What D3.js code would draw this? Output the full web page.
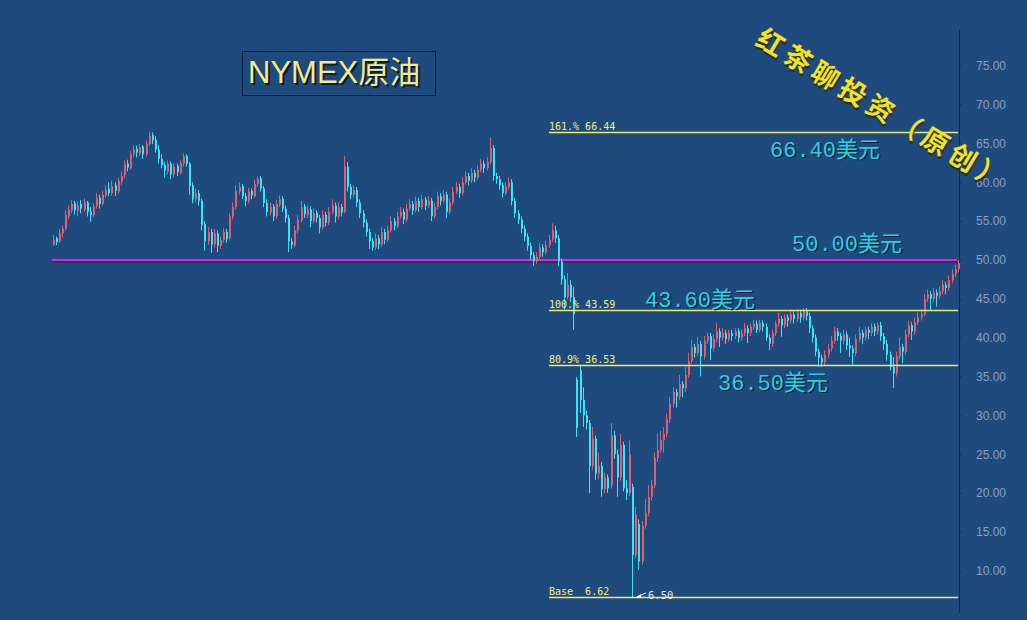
<!DOCTYPE html>
<html><head><meta charset="utf-8">
<script src="https://cdn.jsdelivr.net/npm/d3@7"></script>
<style>html,body{margin:0;padding:0;background:#1f4a7e;overflow:hidden}</style>
</head><body>
<svg id="c" width="1027" height="620"></svg>
<script>
// ---- data ----
const opens=[52.0,52.8,52.4,53.4,54.0,55.6,56.4,57.3,56.3,57.2,
56.5,57.4,56.2,55.8,56.9,58.0,57.2,58.3,59.2,58.6,
59.6,58.8,60.1,60.9,62.4,61.8,63.6,64.3,63.7,64.6,
63.6,64.9,66.1,65.5,64.2,63.0,62.2,61.4,62.4,61.0,
62.1,61.2,62.4,63.4,62.4,59.6,57.8,58.6,57.6,54.6,
52.4,53.6,52.0,53.4,51.8,52.6,53.6,52.8,55.6,56.8,
58.8,59.5,58.2,57.6,58.9,58.2,59.8,60.5,59.2,57.3,
56.1,56.9,55.6,57.1,57.9,56.6,55.4,52.4,51.8,53.8,
55.1,56.9,55.8,56.5,55.0,56.1,55.4,54.2,55.8,54.8,
56.2,57.0,55.6,56.8,56.2,62.0,59.4,58.4,59.0,57.4,
56.0,54.8,53.6,52.4,51.6,52.8,52.0,53.6,52.6,53.8,
55.0,54.4,55.6,56.2,55.2,56.6,57.2,56.4,57.6,56.8,
57.8,57.0,57.6,55.6,56.8,58.2,57.6,58.4,56.2,57.4,
58.8,59.4,58.6,60.0,60.8,60.2,61.2,60.6,61.6,62.4,
61.8,62.6,64.4,60.8,60.4,59.6,58.6,59.4,60.0,57.6,
56.0,55.2,54.0,53.0,51.8,50.6,49.8,50.4,51.6,51.0,
51.9,52.6,53.8,52.8,49.8,47.5,45.2,46.8,45.2,34.6,
35.8,32.0,30.0,29.0,23.5,27.0,22.5,23.5,20.5,22.0,
21.0,27.4,25.0,22.0,26.2,20.6,20.0,20.8,12.0,16.0,
11.2,15.8,17.4,19.5,21.0,24.5,25.5,26.8,27.6,29.5,
31.5,33.0,32.4,34.0,33.5,35.2,37.0,38.8,38.0,39.2,
37.6,39.6,40.2,38.6,39.8,40.8,40.0,40.6,39.8,40.6,
40.2,40.8,40.0,40.6,41.2,40.6,41.4,41.8,41.0,41.9,
41.4,40.0,39.2,40.6,41.8,42.4,41.6,42.6,42.2,43.0,
42.4,43.2,42.6,43.4,42.8,41.2,40.0,38.2,37.4,36.8,
37.8,38.6,39.6,40.8,40.2,39.6,40.4,39.0,38.6,38.0,
39.8,40.6,40.0,41.0,40.6,41.4,40.8,41.6,40.2,39.2,
37.8,36.2,35.4,37.6,38.8,38.2,40.4,41.6,40.8,42.0,
42.6,43.0,45.0,45.6,45.0,45.8,45.4,46.0,46.8,46.4,
47.4,48.2,48.8];
const highs=[53.2,53.0,54.0,54.4,56.4,57.0,57.7,57.6,57.5,57.7,
57.9,57.6,56.8,57.3,58.6,58.4,58.9,59.6,60.0,60.2,
60.0,60.6,61.4,62.8,62.9,64.0,64.8,64.7,64.9,64.8,
65.4,66.5,66.4,65.9,64.8,63.6,62.6,62.8,62.7,62.4,
62.4,62.9,63.7,63.6,62.6,60.0,59.2,59.0,57.9,55.0,
54.2,54.0,54.0,53.8,53.0,54.1,54.0,56.0,57.4,59.6,
60.0,59.8,58.6,59.3,59.2,60.3,60.7,60.8,59.5,57.8,
57.4,57.2,57.7,58.3,58.2,57.0,55.8,52.8,54.4,55.8,
57.6,57.2,57.0,56.9,56.6,56.4,55.8,56.4,56.2,56.8,
57.8,57.4,57.4,57.2,63.4,62.6,59.8,59.6,59.4,57.8,
56.4,55.2,54.0,52.8,53.4,53.2,54.2,54.0,54.4,55.6,
55.4,56.2,56.8,56.6,57.2,57.8,57.6,58.2,58.0,58.4,
58.1,58.2,58.0,57.4,58.8,58.6,59.0,58.8,57.9,59.4,
60.0,59.8,60.6,61.4,61.2,61.8,61.6,62.2,63.0,62.8,
63.2,65.8,64.8,61.2,60.8,60.0,60.0,60.6,60.4,58.0,
56.4,55.6,54.4,53.4,52.2,51.0,51.0,52.2,52.0,52.5,
53.2,54.7,54.4,53.2,50.2,48.0,48.3,47.4,46.5,34.9,
36.5,33.6,30.6,29.4,28.5,27.4,25.2,24.0,22.6,22.4,
29.0,28.0,25.6,27.6,26.6,21.7,26.8,21.2,18.2,16.6,
16.4,19.2,21.0,21.7,25.2,27.7,28.0,28.5,30.2,32.4,
33.6,33.4,35.2,34.4,36.2,38.0,39.7,39.2,40.1,39.6,
40.2,40.6,40.6,40.4,41.9,41.2,41.2,41.0,41.0,41.0,
41.2,41.2,41.0,41.9,41.6,41.8,42.3,42.2,42.3,42.2,
41.8,40.4,41.0,42.2,43.2,42.8,43.0,43.0,43.6,43.4,
43.6,43.6,43.8,43.8,43.2,41.6,40.4,38.6,37.8,38.4,
39.2,40.2,41.4,41.2,40.6,41.0,40.8,40.0,39.0,40.4,
41.4,41.0,41.4,41.4,41.9,41.8,41.9,42.0,40.6,39.7,
38.2,37.5,38.2,40.0,39.2,41.0,42.2,42.0,42.6,43.2,
43.6,45.6,46.2,46.0,46.4,46.2,46.6,47.4,47.2,48.0,
48.8,49.4,50.0];
const lows=[51.8,51.9,52.2,52.9,53.8,55.2,56.0,55.8,55.6,56.0,
56.2,55.6,54.9,55.5,56.6,56.6,57.0,58.0,58.2,58.3,
58.2,58.5,59.6,60.5,61.4,61.6,63.2,63.2,63.4,63.0,
63.3,64.7,64.9,63.8,62.4,61.8,60.6,61.0,60.4,60.6,
60.8,61.0,62.0,62.0,58.4,57.3,57.4,57.0,53.8,51.2,
52.0,50.9,51.6,51.0,51.4,52.2,52.2,52.5,55.2,56.5,
58.4,57.8,56.9,57.3,57.8,58.0,59.4,58.8,56.8,55.6,
55.7,55.0,55.3,56.8,56.2,54.8,51.0,51.4,51.6,53.4,
54.8,55.4,55.4,54.2,54.7,54.8,53.4,53.9,54.3,54.5,
55.9,54.8,55.2,55.6,56.0,58.8,57.8,58.0,56.8,55.4,
54.2,53.0,51.4,51.2,51.3,51.4,51.7,52.0,52.3,53.5,
53.8,54.1,55.3,54.6,54.9,56.3,55.8,56.1,56.2,56.5,
56.4,56.7,55.0,55.3,56.5,57.0,57.3,55.4,55.9,57.1,
58.5,58.0,58.3,59.7,59.6,59.9,60.0,60.3,61.3,61.2,
61.5,62.3,60.2,59.8,59.0,58.0,58.3,59.1,57.0,55.4,
54.6,53.4,52.4,51.2,50.0,49.2,49.5,50.1,50.4,50.7,
51.6,52.3,52.2,49.2,46.8,43.6,44.9,44.6,41.0,27.2,
30.3,28.5,28.2,20.0,23.0,21.7,21.8,19.5,20.0,20.0,
20.6,24.4,19.5,21.6,20.2,19.1,19.6,6.5,11.6,10.1,
10.8,15.4,17.0,19.0,20.6,24.0,25.2,25.2,27.2,29.0,
31.0,31.0,32.0,32.3,33.0,34.8,36.6,37.4,37.6,35.0,
37.2,39.2,37.1,38.2,39.4,38.8,39.6,39.2,39.5,39.6,
39.8,39.4,39.6,40.2,39.3,40.2,41.0,40.6,40.7,40.8,
39.6,38.4,38.8,40.2,41.4,40.1,41.2,41.4,41.8,41.8,
42.0,41.9,42.2,42.2,40.6,39.4,37.6,36.2,36.2,36.4,
37.4,38.2,39.2,39.6,38.0,39.2,38.4,37.5,36.4,37.6,
39.4,39.2,39.6,39.8,40.2,40.2,40.4,39.6,38.4,37.0,
35.8,33.5,35.0,37.2,36.7,37.8,40.0,39.7,40.4,41.6,
42.2,42.8,44.6,43.5,44.6,44.0,45.0,45.6,45.6,46.0,
47.0,47.8,48.4];
const closes=[52.6,52.3,53.5,54.0,55.8,56.5,57.2,56.4,57.0,56.6,
57.4,56.2,55.8,56.9,57.9,57.2,58.4,59.0,58.6,59.5,
58.9,60.2,60.8,62.3,61.9,63.6,64.2,63.8,64.5,63.6,
65.0,66.0,65.4,64.2,63.0,62.2,61.5,62.4,61.0,62.0,
61.3,62.5,63.3,62.4,59.5,57.8,58.6,57.6,54.5,52.4,
53.6,52.0,53.4,51.8,52.6,53.6,52.7,55.6,56.8,58.9,
59.4,58.2,57.6,58.8,58.3,59.8,60.4,59.2,57.3,56.2,
56.8,55.6,57.2,57.8,56.6,55.4,52.4,51.9,53.8,55.2,
56.8,55.9,56.5,55.0,56.0,55.4,54.2,55.8,54.8,56.2,
57.0,55.6,56.8,56.1,62.0,59.4,58.4,59.0,57.4,56.0,
54.8,53.6,52.4,51.6,52.8,52.0,53.6,52.6,53.8,55.0,
54.4,55.6,56.2,55.2,56.6,57.2,56.4,57.6,56.8,57.8,
57.0,57.6,55.6,56.8,58.2,57.6,58.4,56.2,57.4,58.8,
59.4,58.6,60.0,60.8,60.2,61.2,60.6,61.6,62.4,61.8,
62.6,64.4,60.8,60.4,59.6,58.6,59.4,60.0,57.6,56.0,
55.2,54.0,53.0,51.8,50.6,49.8,50.4,51.6,51.0,51.9,
52.6,53.8,52.8,49.8,47.5,45.2,46.8,45.2,43.0,28.4,
32.0,30.0,29.0,23.5,27.0,22.5,23.5,20.5,22.0,20.6,
27.4,25.0,22.0,26.2,20.6,20.0,25.0,12.0,17.2,11.2,
15.8,17.4,19.5,21.0,24.5,25.5,26.8,27.6,29.5,31.5,
33.0,32.4,34.0,33.5,35.2,37.0,38.8,38.0,39.2,37.6,
39.6,40.2,38.6,39.8,40.8,40.0,40.6,39.8,40.6,40.2,
40.8,40.0,40.6,41.2,40.6,41.4,41.8,41.0,41.9,41.4,
40.0,39.2,40.6,41.8,42.4,41.6,42.6,42.2,43.0,42.4,
43.2,42.6,43.4,42.8,41.2,40.0,38.2,37.4,36.8,37.8,
38.6,39.6,40.8,40.2,39.6,40.4,39.0,38.6,38.0,39.8,
40.6,40.0,41.0,40.6,41.4,40.8,41.6,40.2,39.2,37.8,
36.2,35.4,37.6,38.8,38.2,40.4,41.6,40.8,42.0,42.6,
43.0,45.0,45.6,45.0,45.8,45.4,46.0,46.8,46.4,47.4,
48.2,48.8,49.6];

const yTicks=[10,15,20,25,30,35,40,45,50,55,60,65,70,75];
const fibLevels=[66.44,43.59,36.53,6.62];
const fibLabels=["161.% 66.44","100.% 43.59","80.9% 36.53","Base  6.62"];
const supportLevel=50.00;
const noteValues=[66.40,50.00,43.60,36.50];
const noteTexts=["66.40美元","50.00美元","43.60美元","36.50美元"];
const lowMark=6.50;
const lowMarkIndex=187;
const titleText="NYMEX原油";
const watermark="红茶聊投资（原创）";

// ---- layout ----
const W=1027,H=620;
const BG="#1f4a7e";
const svg=d3.select("#c");
svg.append("rect").attr("width",W).attr("height",H).attr("fill",BG);

const n=closes.length;
const y=d3.scaleLinear().domain([10,75]).range([570.7,65.7]);
const x=d3.scaleBand().domain(d3.range(n)).range([51.5,51.5+3.1*n]).padding(0);
const cx=i=>Math.round(x(i)+x.bandwidth()/2-0.5);

// right axis
const axisX=959;
svg.append("line").attr("x1",axisX+0.5).attr("x2",axisX+0.5).attr("y1",30).attr("y2",613)
  .attr("stroke","#0f2542").attr("stroke-width",1);
const ax=svg.append("g").attr("transform",`translate(${axisX},0)`)
  .call(d3.axisRight(y).tickValues(yTicks).tickFormat(d3.format(".2f")).tickSize(3).tickPadding(14));
ax.select(".domain").remove();
ax.selectAll(".tick line").attr("stroke","#17355c");
ax.selectAll(".tick text").attr("fill","#8c9fc2").attr("font-family","Liberation Sans, Arial, sans-serif")
  .attr("font-size","12px").attr("text-anchor","start");

// title box
const tb=svg.append("g");
tb.append("rect").attr("x",242.5).attr("y",51.5).attr("width",193).attr("height",44)
  .attr("fill","none").attr("stroke","#0d1f36").attr("stroke-width",1);
tb.append("text").attr("x",250).attr("y",85).text(titleText)
  .attr("font-family","Liberation Sans, Arial, 'Noto Sans CJK SC', sans-serif").attr("font-size","31px")
  .attr("fill","#0b1a2e");
tb.append("text").attr("x",248).attr("y",83).text(titleText)
  .attr("font-family","Liberation Sans, Arial, 'Noto Sans CJK SC', sans-serif").attr("font-size","31px")
  .attr("fill","#f3ec8a");

// support (magenta) line
const ys=Math.round(y(supportLevel));
svg.append("line").attr("x1",52).attr("x2",957).attr("y1",ys+2).attr("y2",ys+2)
  .attr("stroke","#10284a").attr("stroke-width",1);
svg.append("line").attr("x1",52).attr("x2",957).attr("y1",ys).attr("y2",ys)
  .attr("stroke","#e423e0").attr("stroke-width",2);

// candles
const UP="#dd5f70", DOWN="#3fe1f3";
const cg=svg.append("g");
const idx=d3.range(n);
cg.selectAll("line.wick").data(idx).join("line").attr("class","wick")
  .attr("x1",i=>cx(i)+0.5).attr("x2",i=>cx(i)+0.5)
  .attr("y1",i=>y(highs[i])).attr("y2",i=>y(lows[i]))
  .attr("stroke",i=>closes[i]>=opens[i]?UP:DOWN).attr("stroke-width",1);
cg.selectAll("rect.body").data(idx).join("rect").attr("class","body")
  .attr("x",i=>cx(i)).attr("width",2)
  .attr("y",i=>y(Math.max(opens[i],closes[i])))
  .attr("height",i=>Math.max(1,Math.abs(y(opens[i])-y(closes[i]))))
  .attr("fill",i=>closes[i]>=opens[i]?UP:DOWN);

// fibonacci lines
const fibX0=549, fibX1=958;
const fg=svg.append("g");
fibLevels.forEach((v,k)=>{
  const yy=Math.round(y(v))+0.5;
  fg.append("line").attr("x1",fibX0).attr("x2",fibX1).attr("y1",yy).attr("y2",yy)
    .attr("stroke","#ecec6a").attr("stroke-width",1.3);
  fg.append("text").attr("x",fibX0).attr("y",yy-3).text(fibLabels[k])
    .attr("font-family","DejaVu Sans Mono, monospace").attr("font-size","10px")
    .attr("fill","#f2f27a").style("white-space","pre");
});

// low marker
const lx=cx(lowMarkIndex)+1, ly=y(lowMark);
svg.append("line").attr("x1",lx+13).attr("x2",lx+4).attr("y1",ly-5).attr("y2",ly-1)
  .attr("stroke","#f0f0f0").attr("stroke-width",1);
svg.append("path").attr("d",`M${lx+2},${ly} L${lx+8},${ly-4} L${lx+8},${ly}Z`).attr("fill","#f0f0f0");
svg.append("text").attr("x",lx+15).attr("y",ly+1).text(lowMark.toFixed(2))
  .attr("font-family","DejaVu Sans Mono, monospace").attr("font-size","10.5px").attr("fill","#eaeaea");

// big price notes
const noteX=[770,792,645,718];
const noteDy=[24,-9,-3,25];
const ng=svg.append("g");
noteValues.forEach((v,k)=>{
  const by=y(v)+noteDy[k];
  ng.append("text").attr("x",noteX[k]+1.5).attr("y",by+1.5).text(noteTexts[k])
    .attr("font-family","Liberation Mono, 'Noto Sans CJK SC', monospace").attr("font-size","22px").attr("fill","#0c2038");
  ng.append("text").attr("x",noteX[k]).attr("y",by).text(noteTexts[k])
    .attr("font-family","Liberation Mono, 'Noto Sans CJK SC', monospace").attr("font-size","22px").attr("fill","#2ccfdf");
});

// watermark
const wm=svg.append("g").attr("transform","translate(754,44) rotate(31)");
wm.append("text").attr("x",2).attr("y",2).text(watermark)
  .attr("font-family","'Noto Sans CJK SC', sans-serif").attr("font-weight",700).attr("font-size","27px")
  .attr("letter-spacing","5px").attr("fill","#2a2a10").attr("opacity",0.8);
wm.append("text").attr("x",0).attr("y",0).text(watermark)
  .attr("font-family","'Noto Sans CJK SC', sans-serif").attr("font-weight",700).attr("font-size","27px")
  .attr("letter-spacing","5px").attr("fill","#f4e41e");
</script>
</body></html>
